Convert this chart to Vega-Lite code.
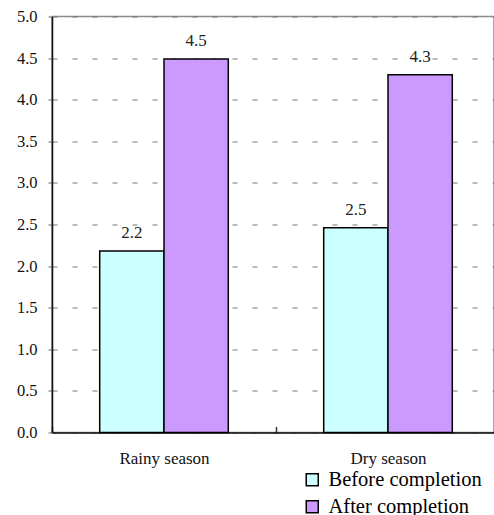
{
  "$schema": "https://vega.github.io/schema/vega-lite/v6.json",
  "autosize": {"type": "none"},
  "padding": {"left": 52, "top": 16.5, "right": 0, "bottom": 82.5},
  "width": 442,
  "height": 416,
  "background": "white",
  "config": {
    "view": {"stroke": "#8c8c8c", "strokeWidth": 1.5},
    "font": "Liberation Serif"
  },
  "data": {
    "values": [
      {"season": "Rainy season", "stage": "Before completion", "value": 2.18, "label": "2.2"},
      {"season": "Rainy season", "stage": "After completion", "value": 4.49, "label": "4.5"},
      {"season": "Dry season", "stage": "Before completion", "value": 2.46, "label": "2.5"},
      {"season": "Dry season", "stage": "After completion", "value": 4.3, "label": "4.3"}
    ]
  },
  "encoding": {
    "x": {
      "field": "season",
      "type": "nominal",
      "sort": ["Rainy season", "Dry season"],
      "scale": {"paddingInner": 0, "paddingOuter": 0, "range": [0, 448]},
      "axis": {
        "title": null,
        "labelAngle": 0,
        "labelFont": "Liberation Serif",
        "labelFontSize": 17,
        "labelColor": "#111",
        "labelPadding": 24,
        "domainColor": "#111",
        "domainWidth": 1.5,
        "tickColor": "#333",
        "tickWidth": 1.5,
        "tickSize": -6,
        "tickBand": "extent",
        "grid": false
      }
    },
    "xOffset": {
      "field": "stage",
      "type": "nominal",
      "sort": ["Before completion", "After completion"],
      "scale": {"paddingInner": 0, "paddingOuter": 0.742}
    },
    "y": {
      "field": "value",
      "type": "quantitative",
      "scale": {"domain": [0, 5], "nice": false, "zero": true},
      "axis": {
        "title": null,
        "values": [0, 0.5, 1, 1.5, 2, 2.5, 3, 3.5, 4, 4.5, 5],
        "format": ".1f",
        "labelFont": "Liberation Serif",
        "labelFontSize": 16.5,
        "labelColor": "#111",
        "labelPadding": 11,
        "domainColor": "#111",
        "domainWidth": 1.5,
        "tickColor": "#666",
        "tickSize": 4,
        "grid": true,
        "gridColor": "#777",
        "gridWidth": 1,
        "gridDash": [5, 15]
      }
    }
  },
  "layer": [
    {
      "mark": {"type": "bar", "stroke": "#000", "strokeWidth": 1.5},
      "encoding": {
        "fill": {
          "field": "stage",
          "type": "nominal",
          "sort": ["Before completion", "After completion"],
          "scale": {"domain": ["Before completion", "After completion"], "range": ["#CCFFFF", "#CC99FF"]},
          "legend": {
            "title": null,
            "orient": "none",
            "legendX": 250,
            "legendY": 453,
            "padding": 0,
            "symbolType": "square",
            "symbolSize": 144,
            "symbolStrokeColor": "#000",
            "symbolStrokeWidth": 1.5,
            "labelFont": "Liberation Serif",
            "labelFontSize": 20.5,
            "labelColor": "#000",
            "labelOffset": 6,
            "rowPadding": 6,
            "labelLimit": 300
          }
        }
      }
    },
    {
      "mark": {"type": "text", "baseline": "alphabetic", "dy": -13, "fontSize": 17, "font": "Liberation Serif", "color": "#222"},
      "encoding": {
        "text": {"field": "label"}
      }
    }
  ]
}
